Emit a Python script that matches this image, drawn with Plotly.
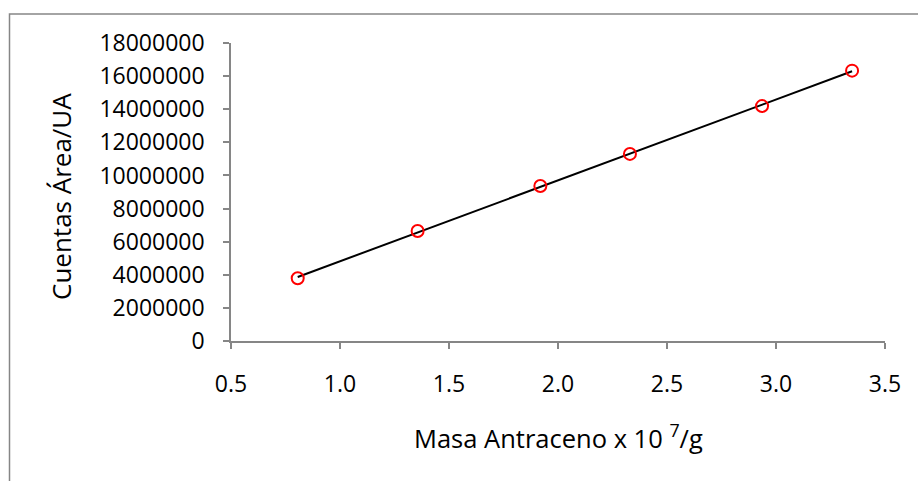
import numpy as np
import plotly.graph_objects as go

# Calibration data: anthracene mass vs. peak area counts
masa = [0.806, 1.356, 1.919, 2.330, 2.936, 3.349]
cuentas = [3790000, 6640000, 9360000, 11300000, 14190000, 16330000]

x_ticks = [0.5, 1.0, 1.5, 2.0, 2.5, 3.0, 3.5]
y_ticks = [0, 2000000, 4000000, 6000000, 8000000, 10000000,
           12000000, 14000000, 16000000, 18000000]

# Least-squares linear trendline over the measured range
pend, inter = np.polyfit(masa, cuentas, 1)
x_fit = [min(masa), max(masa)]
y_fit = [pend * v + inter for v in x_fit]

FONT = "Open Sans"
GRAY = "#868686"

W, H = 918, 481
L, R, T, B = 231, 33, 43, 140
pw, ph = W - L - R, H - T - B

fig = go.Figure()
fig.add_trace(go.Scatter(x=x_fit, y=y_fit, mode="lines",
                         line=dict(color="black", width=2),
                         hoverinfo="skip", showlegend=False))
fig.add_trace(go.Scatter(x=masa, y=cuentas, mode="markers",
                         marker=dict(symbol="circle-open", size=12,
                                     color="#ff0000",
                                     line=dict(color="#ff0000", width=2)),
                         showlegend=False))

axis_common = dict(showgrid=False, zeroline=False, showline=True,
                   linecolor=GRAY, linewidth=1.5, ticks="outside",
                   ticklen=6, tickwidth=1.5, tickcolor=GRAY,
                   tickfont=dict(family=FONT, size=23, color="black"))

fig.update_xaxes(range=[0.5, 3.5], tickvals=x_ticks,
                 ticktext=[f"{v:.1f}" for v in x_ticks],
                 ticklabelstandoff=16, **axis_common)
fig.update_yaxes(range=[0, 18000000], tickvals=y_ticks,
                 ticktext=[str(v) for v in y_ticks],
                 ticklabelstandoff=14, **axis_common)

def px_x(p):
    return (p - L) / pw

def px_y(p):
    return (H - B - p) / ph

fig.add_annotation(text="Cuentas Área/UA", textangle=-90,
                   xref="paper", yref="paper", x=px_x(61), y=px_y(197),
                   xanchor="center", yanchor="middle", showarrow=False,
                   font=dict(family=FONT, size=26, color="black"))
fig.add_annotation(text="Masa Antraceno x 10 <sup>7</sup>/g",
                   xref="paper", yref="paper", x=px_x(558), y=px_y(436),
                   xanchor="center", yanchor="middle", showarrow=False,
                   font=dict(family=FONT, size=25.5, color="black"))

# Chart frame
fig.add_shape(type="rect", xref="paper", yref="paper",
              x0=px_x(9.5), y0=px_y(700), x1=px_x(1200), y1=px_y(14),
              line=dict(color=GRAY, width=1.5), fillcolor="rgba(0,0,0,0)",
              layer="below")

fig.update_layout(width=W, height=H,
                  margin=dict(l=L, r=R, t=T, b=B),
                  plot_bgcolor="white", paper_bgcolor="white")

fig.write_html("out.html")
